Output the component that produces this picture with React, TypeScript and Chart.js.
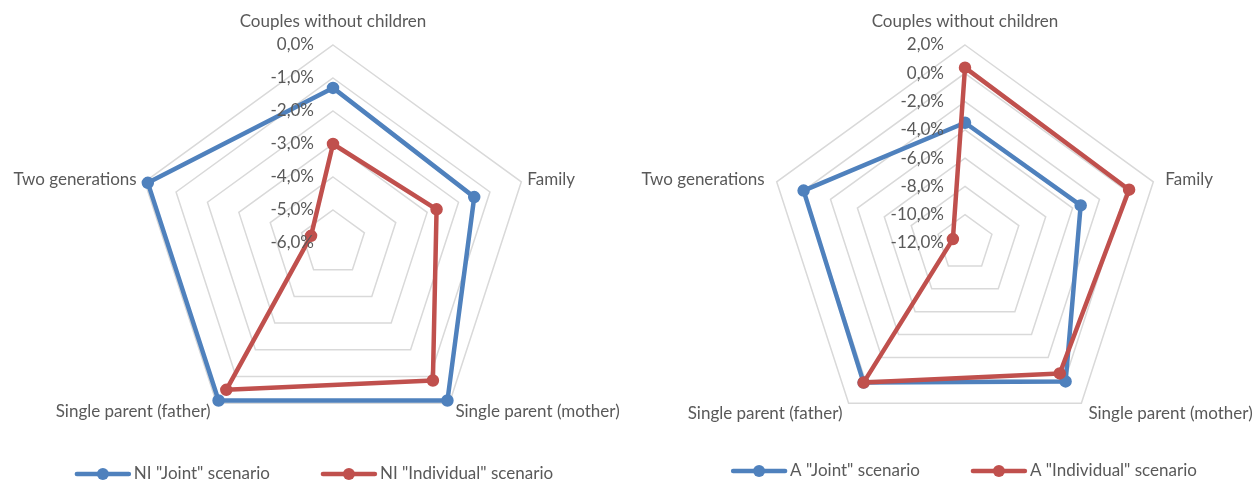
import React, { useEffect, useRef } from 'react';
import { Chart, registerables } from 'chart.js';
Chart.register(...registerables);

const categories = [
  'Couples without children',
  'Family',
  'Single parent (mother)',
  'Single parent (father)',
  'Two generations',
];
const niJoint = [-1.3, -1.5, -0.1, -0.1, -0.1];
const niIndividual = [-3.0, -2.7, -0.85, -0.5, -5.3];
const aJoint = [-3.5, -3.4, 0.1, 0.2, 0.0];
const aIndividual = [0.4, 0.2, -0.6, 0.2, -11.1];

const niTickValues = [0, -1, -2, -3, -4, -5, -6];
const niTickLabels = ['0,0%', '-1,0%', '-2,0%', '-3,0%', '-4,0%', '-5,0%', '-6,0%'];
const aTickValues = [2, 0, -2, -4, -6, -8, -10, -12];
const aTickLabels = ['2,0%', '0,0%', '-2,0%', '-4,0%', '-6,0%', '-8,0%', '-10,0%', '-12,0%'];

const niSeriesNames = ['NI "Joint" scenario', 'NI "Individual" scenario'];
const aSeriesNames = ['A "Joint" scenario', 'A "Individual" scenario'];

const BLUE = '#4f81bd';
const RED = '#c0504d';
const TEXT = '#595959';
const FONT = '17px Lato';

const excelLabels = {
  id: 'excelLabels',
  afterDraw(chart: any, _args: any, opts: any) {
    const scale = chart.scales.r;
    const ctx = chart.ctx;
    ctx.save();
    ctx.font = FONT;
    ctx.fillStyle = TEXT;
    // tick labels
    ctx.textAlign = 'right';
    ctx.textBaseline = 'middle';
    opts.tickValues.forEach((v: number, i: number) => {
      const d = scale.getDistanceFromCenterForValue(v);
      ctx.fillText(opts.tickLabels[i], scale.xCenter - opts.tickGap, scale.yCenter - d);
    });
    // point labels
    opts.categories.forEach((c: string, i: number) => {
      const p = scale.getPointPosition(i, scale.drawingArea);
      const o = opts.labelOffsets[i];
      ctx.textAlign = o.align;
      ctx.fillText(c, p.x + o.dx, p.y + o.dy);
    });
    // legend
    const items = opts.legend as { text: string; color: string }[];
    const lineW = 56;
    const gapText = 3;
    const gapItem = 51;
    const widths = items.map((it) => lineW + gapText + ctx.measureText(it.text).width);
    const total = widths.reduce((a, b) => a + b, 0) + gapItem * (items.length - 1);
    let x = opts.legendCenter - total / 2;
    const y = opts.legendY;
    items.forEach((it, i) => {
      ctx.strokeStyle = it.color;
      ctx.lineWidth = 4.5;
      ctx.lineCap = 'round';
      ctx.beginPath();
      ctx.moveTo(x + 2, y);
      ctx.lineTo(x + lineW - 2, y);
      ctx.stroke();
      ctx.fillStyle = it.color;
      ctx.beginPath();
      ctx.arc(x + lineW / 2, y, 6, 0, Math.PI * 2);
      ctx.fill();
      ctx.fillStyle = TEXT;
      ctx.textAlign = 'left';
      ctx.fillText(it.text, x + lineW + gapText, y);
      x += widths[i] + gapItem;
    });
    ctx.restore();
  },
};

type PanelProps = {
  left: number;
  width: number;
  names: string[];
  joint: number[];
  individual: number[];
  tickValues: number[];
  tickLabels: string[];
  padding: { left: number; right: number; top: number; bottom: number };
  labelOffsets: { dx: number; dy: number; align: string }[];
  legendCenter: number;
  legendY: number;
  tickGap: number;
};

function RadarPanel(props: PanelProps) {
  const ref = useRef<HTMLCanvasElement | null>(null);
  useEffect(() => {
    if (!ref.current) return;
    const min = Math.min(...props.tickValues);
    const max = Math.max(...props.tickValues);
    const step = Math.abs(props.tickValues[0] - props.tickValues[1]);
    const ds = (label: string, data: number[], color: string, order: number) => ({
      label,
      data,
      borderColor: color,
      backgroundColor: color,
      pointBackgroundColor: color,
      pointBorderColor: color,
      borderWidth: 4.5,
      pointRadius: 5.5,
      pointBorderWidth: 1.5,
      borderJoinStyle: 'round',
      fill: false,
      order,
    });
    const chart = new Chart(ref.current, {
      type: 'radar',
      data: {
        labels: categories,
        datasets: [
          ds(props.names[0], props.joint, BLUE, 1),
          ds(props.names[1], props.individual, RED, 0),
        ] as any,
      },
      options: {
        responsive: false,
        animation: false,
        layout: { padding: props.padding },
        plugins: {
          legend: { display: false },
          tooltip: { enabled: false },
          excelLabels: {
            tickValues: props.tickValues,
            tickLabels: props.tickLabels,
            categories,
            labelOffsets: props.labelOffsets,
            legend: [
              { text: props.names[0], color: BLUE },
              { text: props.names[1], color: RED },
            ],
            legendCenter: props.legendCenter,
            legendY: props.legendY,
            tickGap: props.tickGap,
          },
        } as any,
        scales: {
          r: {
            min,
            max,
            ticks: { display: false, stepSize: step },
            pointLabels: { display: false },
            angleLines: { display: false },
            grid: { color: '#d9d9d9', lineWidth: 1.5 },
          },
        },
      },
      plugins: [excelLabels as any],
    });
    return () => chart.destroy();
  }, []);
  return (
    <canvas
      ref={ref}
      width={props.width}
      height={483}
      style={{ position: 'absolute', left: props.left, top: 0, width: props.width, height: 483 }}
    />
  );
}

export default function App() {
  return (
    <div style={{ position: 'absolute', left: 0, top: 0, width: 1259, height: 483, background: '#fff' }}>
      <RadarPanel
        left={0}
        width={630}
        names={niSeriesNames}
        joint={niJoint}
        individual={niIndividual}
        tickValues={niTickValues}
        tickLabels={niTickLabels}
        padding={{ left: 135, right: 99, top: 45, bottom: 42 }}
        labelOffsets={[
          { dx: 0, dy: -23, align: 'center' },
          { dx: 6, dy: -2, align: 'left' },
          { dx: 6, dy: 8, align: 'left' },
          { dx: -6, dy: 8, align: 'right' },
          { dx: -8, dy: -2, align: 'right' },
        ]}
        legendCenter={314}
        legendY={474}
        tickGap={19}
      />
      <RadarPanel
        left={630}
        width={629}
        names={aSeriesNames}
        joint={aJoint}
        individual={aIndividual}
        tickValues={aTickValues}
        tickLabels={aTickLabels}
        padding={{ left: 137, right: 96, top: 45, bottom: 42 }}
        labelOffsets={[
          { dx: 0, dy: -23, align: 'center' },
          { dx: 12, dy: -2, align: 'left' },
          { dx: 7, dy: 10, align: 'left' },
          { dx: -6, dy: 10, align: 'right' },
          { dx: -12, dy: -2, align: 'right' },
        ]}
        legendCenter={334}
        legendY={471}
        tickGap={21}
      />
    </div>
  );
}
